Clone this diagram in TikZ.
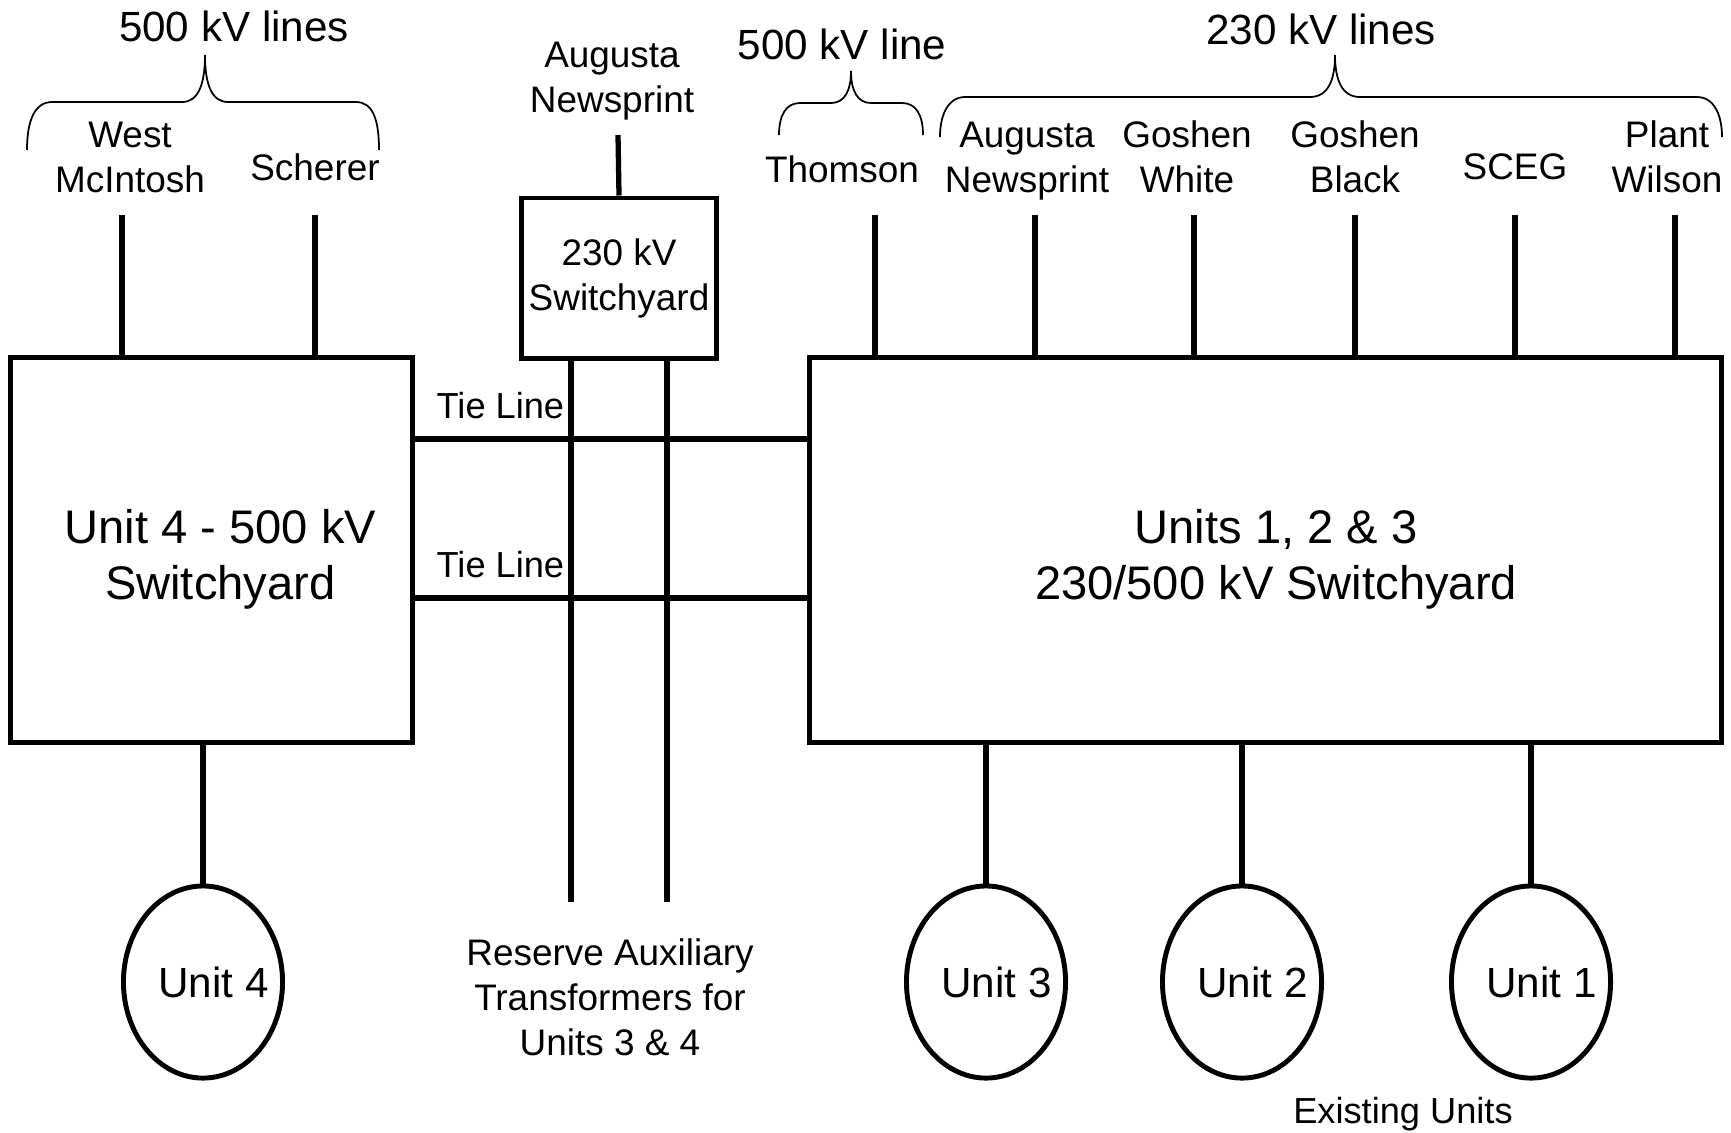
\documentclass[tikz,border=0pt]{standalone}
\usepackage{fontspec}
\setmainfont{Liberation Sans}
\usepackage{tikz}
\usetikzlibrary{shapes.geometric}

\begin{document}
\begin{tikzpicture}[x=0.01cm, y=-0.01cm]

        % Frame of the page (pixel units, y running down)
        \useasboundingbox (0,0) rectangle (1731,1132);

        \tikzset{
            yard/.style={draw, line width=1.4pt, rectangle, inner sep=0pt, align=center},
            unit/.style={draw, line width=1.4pt, ellipse, inner ysep=0pt, inner xsep=-6pt,
                minimum width=1.59cm, minimum height=1.92cm,
                font=\fontsize{12}{14}\selectfont, execute at begin node=\hspace*{6pt}},
            feed/.style={line width=1.5pt},
            lbl/.style={align=center, inner sep=0pt, font=\fontsize{10.5}{12.8}\selectfont},
            head/.style={inner sep=0pt, font=\fontsize{12}{14}\selectfont},
            brc/.style={line width=0.5pt}
        }
        \def\bigfont{\fontsize{13.4}{16.2}\selectfont}

        % 1. The three switchyards
        \node[yard, minimum width=4.01cm, minimum height=3.84cm, font=\bigfont] (sy4) at (211.5,550)
            {\rule{0pt}{15pt}\hspace*{5pt}Unit 4 - 500 kV\\\hspace*{5pt}Switchyard};
        \node[yard, minimum width=9.11cm, minimum height=3.84cm, font=\bigfont] (sy123) at (1265.5,550)
            {\rule{0pt}{15pt}\hspace*{6pt}Units 1, 2 \& 3\\\hspace*{6pt}230/500 kV Switchyard};
        \node[yard, lbl, draw, minimum width=1.94cm, minimum height=1.60cm] (sy230) at (619,278)
            {230 kV\\Switchyard};

        % 2. Generating units
        \node[unit] (u4) at (203,982) {Unit 4};
        \node[unit] (u3) at (986,982) {Unit 3};
        \node[unit] (u2) at (1242,982) {Unit 2};
        \node[unit] (u1) at (1531,982) {Unit 1};

        \draw[feed] (sy4.south -| u4.north) -- (u4.north);
        \draw[feed] (sy123.south -| u3.north) -- (u3.north);
        \draw[feed] (sy123.south -| u2.north) -- (u2.north);
        \draw[feed] (sy123.south -| u1.north) -- (u1.north);

        \node[lbl, font=\fontsize{10.3}{12.5}\selectfont] (exist) at (1403,1114) {Existing Units};

        % 3. Line ends on top of the yards
        \coordinate (fwm) at (122,215);
        \coordinate (fsc) at (315,215);
        \coordinate (fan) at (618,135);
        \foreach \xx/\nm in {875/th, 1035/an2, 1194/gw, 1355/gb, 1515/sc2, 1675/pw}
            \coordinate (f\nm) at (\xx,215);

        \draw[feed] (fwm) -- (fwm |- sy4.north);
        \draw[feed] (fsc) -- (fsc |- sy4.north);
        \draw[feed] (fan) -- (sy230.north);
        \foreach \nm in {th, an2, gw, gb, sc2, pw}
            \draw[feed] (f\nm) -- (f\nm |- sy123.north);

        % line names
        \node[lbl] (lwm) at (130,157) {West\\McIntosh};
        \node[lbl] (lsc) at (315,167) {Scherer};
        \node[lbl] (lan) at (612,81) {Augusta\\Newsprint};
        \node[lbl] (lth) at (842,169) {Thomson};
        \node[lbl] (lan2) at (1027,161) {Augusta\\Newsprint};
        \node[lbl] (lgw) at (1187,157) {Goshen\\White};
        \node[lbl] (lgb) at (1355,157) {Goshen\\Black};
        \node[lbl] (lsc2) at (1515,167) {SCEG};
        \node[lbl] (lpw) at (1667,157) {Plant\\Wilson};

        % 4. Braces and their headings
        \draw[brc] (27,150) .. controls (27,120) and (35,102) .. (52,102) -- (182,102)
            .. controls (198,102) and (205,85) .. (205,55)
            .. controls (205,85) and (212,102) .. (228,102) -- (356,102)
            .. controls (373,102) and (379,120) .. (379,150);
        \draw[brc] (779,135) .. controls (779,115) and (786,103) .. (800,103) -- (831,103)
            .. controls (845,103) and (851,90) .. (851,71)
            .. controls (851,90) and (857,103) .. (871,103) -- (902,103)
            .. controls (916,103) and (923,115) .. (923,135);
        \draw[brc] (940,137) .. controls (940,115) and (948,97) .. (965,97) -- (1310,97)
            .. controls (1328,97) and (1335,80) .. (1335,55)
            .. controls (1335,80) and (1342,97) .. (1360,97) -- (1697,97)
            .. controls (1714,97) and (1722,115) .. (1722,137);

        \node[head] (h500a) at (234,26) {500 kV lines};
        \node[head] (h500b) at (842,44.5) {500 kV line};
        \node[head] (h230) at (1321,29.5) {230 kV lines};

        % 5. Tie lines and reserve auxiliary feeds
        \draw[feed] (sy4.east |- 0,439) -- node[lbl, font=\fontsize{10.3}{12.5}\selectfont, pos=0.2186, above=5pt] (tl1) {Tie Line} (sy123.west |- 0,439);
        \draw[feed] (sy4.east |- 0,598) -- node[lbl, font=\fontsize{10.3}{12.5}\selectfont, pos=0.2186, above=5pt] (tl2) {Tie Line} (sy123.west |- 0,598);

        \coordinate (auxa) at (571,902);
        \coordinate (auxb) at (667,902);
        \draw[feed] (sy230.south -| auxa) -- (auxa);
        \draw[feed] (sy230.south -| auxb) -- (auxb);

        \node[lbl] (lres) at (610,997) {Reserve Auxiliary\\Transformers for\\Units 3 \& 4};

\end{tikzpicture}
\end{document}
